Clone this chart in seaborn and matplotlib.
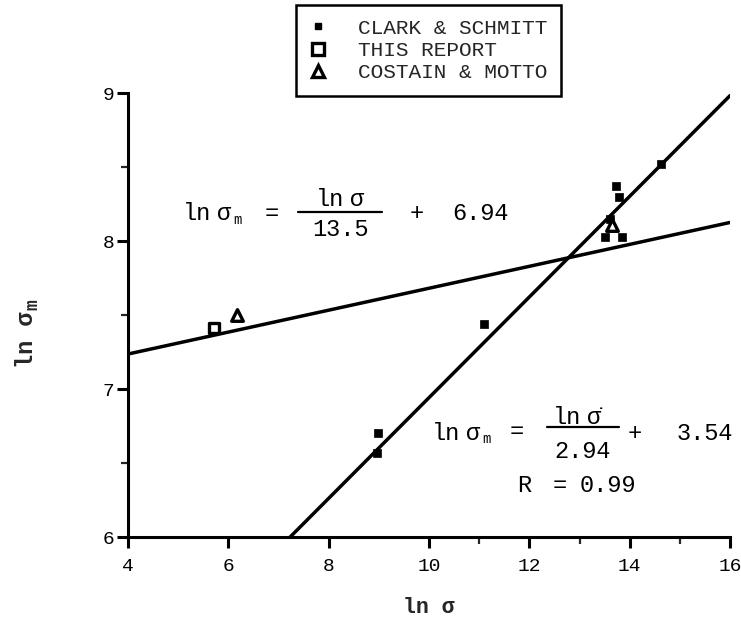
import numpy as np
import matplotlib
matplotlib.use("Agg")
import matplotlib.pyplot as plt
import seaborn as sns
from matplotlib.lines import Line2D
from matplotlib.ticker import FixedLocator

# ln(strain rate) vs ln(peak stress) for each data source
clark_x = [8.96, 8.99, 11.10, 13.61, 13.51, 13.84, 13.73, 13.79, 14.63]
clark_y = [6.57, 6.70, 7.44, 8.15, 8.03, 8.03, 8.37, 8.30, 8.52]
report_x = [5.71]
report_y = [7.41]
costain_x = [6.18, 13.64]
costain_y = [7.50, 8.11]

# fitted lines: ln sm = ln s / divisor + intercept
fit_div = [13.5, 2.94]
fit_int = [6.94, 3.54]
fit_r = 0.99

x_ticks = [4, 6, 8, 10, 12, 14, 16]
x_minor = [11, 13, 15]
y_ticks = [6, 7, 8, 9]
y_minor = [6.5, 7.5, 8.5]

legend_labels = ["CLARK & SCHMITT", "THIS REPORT", "COSTAIN & MOTTO"]

W, H = 741, 621


def fx(px):
    return px / W


def fy(py):
    return 1 - py / H


sns.set_theme(style="ticks")
plt.rcParams["font.family"] = ["Liberation Mono", "DejaVu Sans Mono"]

fig = plt.figure(figsize=(W / 100, H / 100), dpi=100)
ax = fig.add_axes([fx(128), fy(537), (730 - 128) / W, (537 - 93) / H])

# regression lines across the full x range
xs = np.array([x_ticks[0], x_ticks[-1]], dtype=float)
for d, b in zip(fit_div, fit_int):
    sns.lineplot(x=xs, y=xs / d + b, ax=ax, color="black", lw=2.5)

sns.scatterplot(x=clark_x, y=clark_y, ax=ax, marker="s", s=28,
                color="black", edgecolor="black", linewidth=0.5, zorder=3)
sns.scatterplot(x=report_x, y=report_y, ax=ax, marker="s", s=50,
                facecolor="white", edgecolor="black", linewidth=2.4, zorder=3)
sns.scatterplot(x=costain_x, y=costain_y, ax=ax, marker="^", s=70,
                facecolor="white", edgecolor="black", linewidth=2.4, zorder=3)

ax.set_xlim(x_ticks[0], x_ticks[-1])
ax.set_ylim(y_ticks[0], y_ticks[-1])
ax.set_xticks(x_ticks)
ax.set_yticks(y_ticks)
ax.xaxis.set_minor_locator(FixedLocator(x_minor))
ax.yaxis.set_minor_locator(FixedLocator(y_minor))
ax.set_xticklabels([str(v) for v in x_ticks])
ax.set_yticklabels([str(v) for v in y_ticks])
ax.tick_params(axis="both", which="major", length=8, width=2.2,
               labelsize=14, colors="black")
ax.tick_params(axis="both", which="minor", length=5, width=1.6)
ax.tick_params(axis="x", which="major", pad=7)
ax.tick_params(axis="y", which="major", pad=2)

sns.despine(ax=ax)
for side in ("left", "bottom"):
    ax.spines[side].set_linewidth(2.2)
    ax.spines[side].set_color("black")

ax.set_xlabel("ln σ", fontsize=15.5, fontweight="bold", labelpad=16)

# rotated y label: "ln σ" with a bold subscript m
fig.text(fx(27), fy(340), "ln σ", rotation=90, ha="center", va="center",
         fontsize=17, fontweight="bold")
fig.text(fx(33), fy(305), "m", rotation=90, ha="center", va="center",
         fontsize=13, fontweight="bold")

# legend above the plot
handles = [
    Line2D([], [], ls="none", marker="s", ms=5, mfc="black", mec="black"),
    Line2D([], [], ls="none", marker="s", ms=8, mfc="white", mec="black", mew=2.4),
    Line2D([], [], ls="none", marker="^", ms=9, mfc="white", mec="black", mew=2.4),
]
leg = fig.legend(handles, legend_labels, loc="upper left",
                 bbox_to_anchor=(fx(296), fy(5)), bbox_transform=fig.transFigure,
                 frameon=True, fancybox=False, edgecolor="black", framealpha=1,
                 fontsize=15.2, handlelength=0.8, handletextpad=1.5,
                 borderpad=0.65, labelspacing=0.15, borderaxespad=0)
leg.get_frame().set_linewidth(1.8)

fs = 17


def put(px, py, s, ha="left", size=fs):
    fig.text(fx(px), fy(py), s, ha=ha, va="center", fontsize=size, color="black")


def ln_sigma(px, py, sub=False, dot=False):
    """'ln' followed by a closely spaced sigma, optional subscript m / rate dot."""
    put(px, py, "ln")
    put(px + 34, py, "σ\u0307" if dot else "σ")
    if sub:
        put(px + 50, py + 6, "m", size=10)


def bar(x0, x1, py):
    fig.add_artist(Line2D([fx(x0), fx(x1)], [fy(py), fy(py)], color="black",
                          lw=1.6, transform=fig.transFigure))


# upper fit: ln sm = ln s / 13.5 + 6.94
ln_sigma(183, 214, sub=True)
put(265, 213, "=")
ln_sigma(316, 199)
bar(298, 382, 212)
put(340, 229, f"{fit_div[0]}", ha="center")
put(410, 213, "+")
put(452, 213, f"{fit_int[0]}")

# lower fit: ln sm = ln s' / 2.94 + 3.54
ln_sigma(432, 433, sub=True)
put(510, 432, "=")
ln_sigma(553, 418, dot=True)
bar(547, 619, 427)
put(583, 451, f"{fit_div[1]}", ha="center")
put(628, 433, "+")
put(677, 433, f"{fit_int[1]}")
put(517, 485, "R")
put(553, 485, "=")
put(580, 485, f"{fit_r}")

fig.savefig("out.png", dpi=100)
